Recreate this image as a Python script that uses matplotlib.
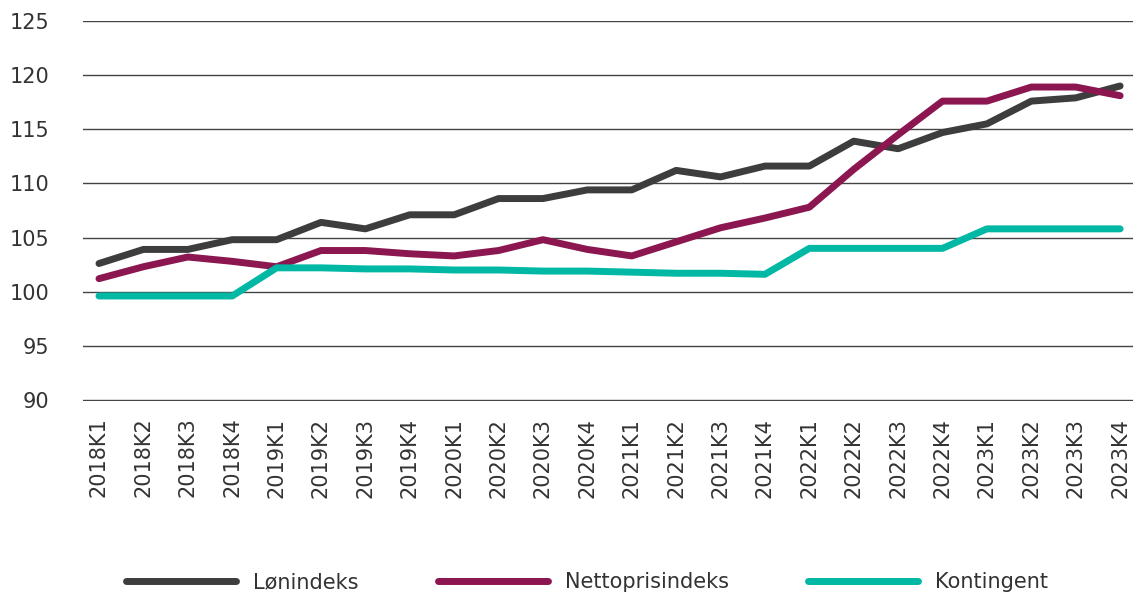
import matplotlib
matplotlib.use("Agg")
import matplotlib.pyplot as plt
from matplotlib.lines import Line2D

quarters = [f"{y}K{q}" for y in range(2018, 2024) for q in range(1, 5)]

lonindeks = [102.6, 103.9, 103.9, 104.8, 104.8, 106.4, 105.8, 107.1,
             107.1, 108.6, 108.6, 109.4, 109.4, 111.2, 110.6, 111.6,
             111.6, 113.9, 113.2, 114.7, 115.5, 117.6, 117.9, 119.0]
nettopris = [101.2, 102.3, 103.2, 102.8, 102.3, 103.8, 103.8, 103.5,
             103.3, 103.8, 104.8, 103.9, 103.3, 104.6, 105.9, 106.8,
             107.8, 111.3, 114.5, 117.6, 117.6, 118.9, 118.9, 118.1]
kontingent = [99.6, 99.6, 99.6, 99.6, 102.2, 102.2, 102.1, 102.1,
              102.0, 102.0, 101.9, 101.9, 101.8, 101.7, 101.7, 101.6,
              104.0, 104.0, 104.0, 104.0, 105.8, 105.8, 105.8, 105.8]

series_names = ["Lønindeks", "Nettoprisindeks", "Kontingent"]
colors = ["#3d3d3d", "#8b1650", "#00b8a4"]

plt.rcParams['font.family'] = ['DejaVu Sans']

fig = plt.figure(figsize=(11.33, 5.96), dpi=100)
ax = fig.add_axes([83/1133, 1-401/596, 1-83/1133, (401-21)/596])

x = list(range(len(quarters)))
for vals, c in zip([lonindeks, nettopris, kontingent], colors):
    ax.plot(x, vals, color=c, lw=5, solid_capstyle='round', zorder=3)

ax.set_ylim(89.9, 125)
ax.set_yticks(range(90, 126, 5))
ax.set_xlim(-0.36, 23.29)
ax.set_xticks(x)
ax.set_xticklabels(quarters, rotation=90, fontsize=15, color="#333333")
ax.tick_params(axis='y', labelsize=15, labelcolor="#333333", length=0, pad=24.5)
ax.tick_params(axis='x', length=0, pad=12)
ax.grid(axis='y', color="#444444", lw=1)
ax.set_axisbelow(True)
for s in ax.spines.values():
    s.set_visible(False)

handles = [Line2D([0], [0], color=c, lw=5, solid_capstyle='round') for c in colors]
fig.legend(handles, series_names, loc='center', bbox_to_anchor=(0.518, 1-582/596),
           ncol=3, frameon=False, fontsize=15, handlelength=5.3, columnspacing=3.8,
           handletextpad=0.8, labelcolor="#333333")

fig.savefig("out.png", dpi=100)
